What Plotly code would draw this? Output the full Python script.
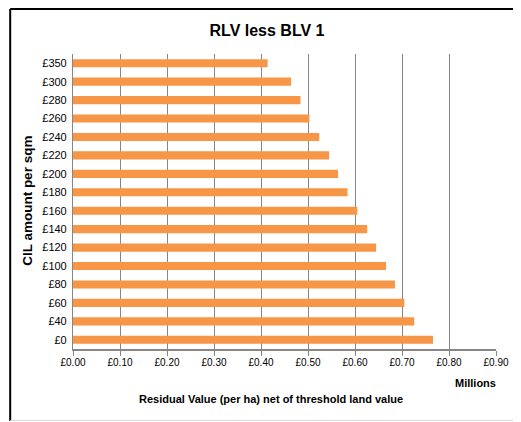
import plotly.graph_objects as go

categories = ["£0", "£40", "£60", "£80", "£100", "£120", "£140", "£160",
              "£180", "£200", "£220", "£240", "£260", "£280", "£300", "£350"]
values = [0.766, 0.726, 0.705, 0.685, 0.666, 0.645, 0.626, 0.605,
          0.584, 0.564, 0.545, 0.524, 0.503, 0.484, 0.464, 0.414]
x_ticks = [0.0, 0.1, 0.2, 0.3, 0.4, 0.5, 0.6, 0.7, 0.8, 0.9]
x_tick_labels = ["£0.00", "£0.10", "£0.20", "£0.30", "£0.40",
                 "£0.50", "£0.60", "£0.70", "£0.80", "£0.90"]

OFF = 8  # page body margin
W, H = 521 - OFF, 422 - OFF
L, R, T, B = 73 - OFF, 521 - 504, 54 - OFF, 422 - 349
pw, ph = W - L - R, H - T - B

def px(x):
    return (x - OFF - L) / pw

def py(y):
    return (H - B - (y - OFF)) / ph

fig = go.Figure(go.Bar(
    x=values, y=categories, orientation="h",
    marker=dict(color="#F79646", line=dict(width=0)),
    width=0.44,
))

font = "Arial, Liberation Sans, sans-serif"
fig.update_layout(
    width=W, height=H,
    margin=dict(l=L, r=R, t=T, b=B),
    paper_bgcolor="white", plot_bgcolor="white",
    showlegend=False,
    font=dict(family=font, color="#000000"),
    title=dict(text="<b>RLV less BLV 1</b>", x=(267 - OFF) / W, xanchor="center",
               y=1 - (30 - OFF) / H, yanchor="middle", font=dict(size=16, family=font)),
    xaxis=dict(range=[0, 0.9], tickvals=x_ticks, ticktext=x_tick_labels,
               showgrid=True, gridcolor="#868686", gridwidth=1,
               showline=True, linecolor="#868686", linewidth=1.5,
               ticks="outside", ticklen=5, tickcolor="#868686",
               ticklabelstandoff=-2,
               tickfont=dict(size=10, family=font), zeroline=False),
    yaxis=dict(categoryorder="array", categoryarray=categories,
               range=[-0.5, len(categories) - 0.5],
               showline=True, linecolor="#868686", linewidth=1,
               ticks="", tickfont=dict(size=11, family=font),
               showgrid=False, ticksuffix=" "),
    annotations=[
        dict(text="<b>CIL amount per sqm</b>", textangle=-90, xref="paper", yref="paper",
             x=px(26), y=py(201), xanchor="center", yanchor="middle", showarrow=False,
             font=dict(size=13.5, family=font)),
        dict(text="<b>Residual Value (per ha) net of threshold land value</b>",
             xref="paper", yref="paper", x=px(275), y=py(399), xanchor="center",
             yanchor="middle", showarrow=False, font=dict(size=11, family=font)),
        dict(text="<b>Millions</b>", xref="paper", yref="paper", x=px(483), y=py(383),
             xanchor="center", yanchor="middle", showarrow=False,
             font=dict(size=11, family=font)),
    ],
    shapes=[
        dict(type="line", xref="paper", yref="paper", x0=px(9), x1=px(9),
             y0=py(421), y1=py(9), line=dict(color="black", width=2)),
        dict(type="line", xref="paper", yref="paper", x0=px(9), x1=px(530),
             y0=py(9), y1=py(9), line=dict(color="black", width=2)),
        dict(type="line", xref="paper", yref="paper", x0=px(9), x1=px(530),
             y0=py(420.5), y1=py(420.5), line=dict(color="#d9d9d9", width=1)),
    ],
)

fig.write_html("out.html")
